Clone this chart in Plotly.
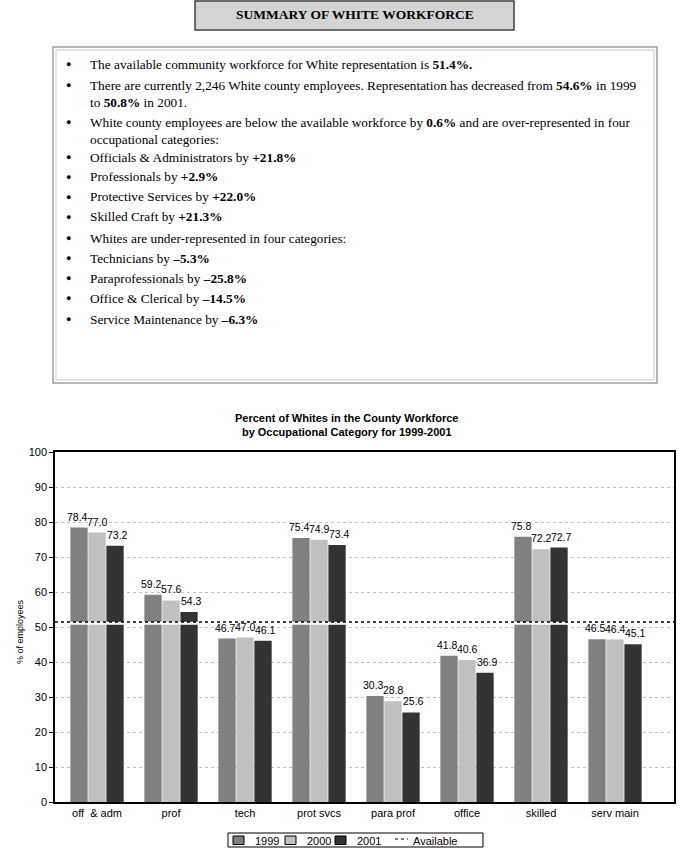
import plotly.graph_objects as go

CATEGORIES = ["off  & adm", "prof", "tech", "prot svcs", "para prof", "office", "skilled", "serv main"]
Y1999 = [78.4, 59.2, 46.7, 75.4, 30.3, 41.8, 75.8, 46.5]
Y2000 = [77.0, 57.6, 47.0, 74.9, 28.8, 40.6, 72.2, 46.4]
Y2001 = [73.2, 54.3, 46.1, 73.4, 25.6, 36.9, 72.7, 45.1]
AVAILABLE = 51.4
SERIES_NAMES = ["1999", "2000", "2001"]
COLORS = ["#808080", "#c0c0c0", "#333333"]

HEADER = "SUMMARY OF WHITE WORKFORCE"
BULLETS = [
    ("The available community workforce for White representation is <b>51.4%.</b>", 64),
    ("There are currently 2,246 White county employees. Representation has decreased from <b>54.6%</b> in 1999", 85),
    ("to <b>50.8%</b> in 2001.", 102),
    ("White county employees are below the available workforce by <b>0.6%</b> and are over-represented in four", 122),
    ("occupational categories:", 139),
    ("Officials &amp; Administrators by <b>+21.8%</b>", 157),
    ("Professionals by <b>+2.9%</b>", 177),
    ("Protective Services by <b>+22.0%</b>", 197),
    ("Skilled Craft by <b>+21.3%</b>", 217),
    ("Whites are under-represented in four categories:", 238),
    ("Technicians by <b>\u20135.3%</b>", 258),
    ("Paraprofessionals by <b>\u201325.8%</b>", 278),
    ("Office &amp; Clerical by <b>\u201314.5%</b>", 298),
    ("Service Maintenance by <b>\u20136.3%</b>", 319),
]
BULLET_ROWS = {64, 85, 122, 157, 177, 197, 217, 238, 258, 278, 298, 319}

W, H = 694, 860
L, R, T, B = 55, 674, 452, 802


def px(x):
    return (x - L) / (R - L)


def py(y):
    return (B - y) / (B - T)


SANS = "Liberation Sans, Arial, sans-serif"
SERIF = "Liberation Serif, Times New Roman, serif"

fig = go.Figure()
for name, vals, col in zip(SERIES_NAMES, [Y1999, Y2000, Y2001], COLORS):
    fig.add_trace(go.Bar(
        name=name, x=CATEGORIES, y=vals, marker=dict(color=col, line=dict(width=0)),
        showlegend=False,
    ))

fig.add_trace(go.Scatter(x=[0, 1], y=[AVAILABLE - 0.35, AVAILABLE - 0.35], xaxis="x2", mode="lines",
                         line=dict(color="white", width=3), showlegend=False, hoverinfo="skip"))
fig.add_trace(go.Scatter(x=[0, 1], y=[AVAILABLE, AVAILABLE], xaxis="x2", mode="lines", name="Available",
                         line=dict(color="black", width=1.5, dash="dot"), showlegend=False))

shapes = []
annotations = []

# value labels (data coordinates, shifted onto each series' bar)
LABEL_XSHIFT = [-20, 0, 20]
for vals, xs in zip([Y1999, Y2000, Y2001], LABEL_XSHIFT):
    for cat, v in zip(CATEGORIES, vals):
        annotations.append(dict(xref="x", yref="y", x=cat, y=v, text=f"{v:.1f}", showarrow=False,
                                xanchor="center", yanchor="bottom", xshift=xs, yshift=3,
                                font=dict(family=SANS, size=10.5, color="black")))

# header box
shapes.append(dict(type="rect", xref="paper", yref="paper", x0=px(195), x1=px(514), y0=py(30), y1=py(1),
                   fillcolor="#d4d4d4", line=dict(color="#404040", width=1.5), layer="below"))
annotations.append(dict(xref="paper", yref="paper", x=px(355), y=py(15), text=f"<b>{HEADER}</b>",
                        showarrow=False, xanchor="center", yanchor="middle",
                        font=dict(family=SERIF, size=13.5, color="black")))

# text box (double border)
shapes.append(dict(type="rect", xref="paper", yref="paper", x0=px(53), x1=px(657), y0=py(383), y1=py(47),
                   line=dict(color="#a0a0a0", width=1.5), fillcolor="white", layer="below"))
shapes.append(dict(type="rect", xref="paper", yref="paper", x0=px(56), x1=px(654), y0=py(380), y1=py(50),
                   line=dict(color="#c8c8c8", width=1), layer="below"))
for text, y in BULLETS:
    if y in BULLET_ROWS:
        annotations.append(dict(xref="paper", yref="paper", x=px(68), y=py(y), text="\u25cf",
                                showarrow=False, xanchor="center", yanchor="middle",
                                font=dict(family=SANS, size=9, color="black")))
    annotations.append(dict(xref="paper", yref="paper", x=px(88), y=py(y), text=text,
                            showarrow=False, xanchor="left", yanchor="middle",
                            font=dict(family=SERIF, size=13.3, color="black")))

# chart title
annotations.append(dict(xref="paper", yref="paper", x=px(347), y=py(425),
                        text="<b>Percent of Whites in the County Workforce<br>by Occupational Category for 1999-2001</b>",
                        showarrow=False, xanchor="center", yanchor="middle",
                        font=dict(family=SANS, size=11, color="black")))
# y title
annotations.append(dict(xref="paper", yref="paper", x=px(20), y=py(632), text="% of employees",
                        textangle=-90, showarrow=False, xanchor="center", yanchor="middle",
                        font=dict(family=SANS, size=9, color="black")))

# manual legend
shapes.append(dict(type="rect", xref="paper", yref="paper", x0=px(228), x1=px(483), y0=py(847), y1=py(833),
                   line=dict(color="black", width=1), fillcolor="white"))
LEG_X = [(233, 253), (285, 305), (335, 355)]
for (sx, tx), name, col in zip(LEG_X, SERIES_NAMES, COLORS):
    shapes.append(dict(type="rect", xref="paper", yref="paper", x0=px(sx), x1=px(sx + 11),
                       y0=py(844.5), y1=py(836), fillcolor=col, line=dict(color="black", width=1)))
    annotations.append(dict(xref="paper", yref="paper", x=px(tx), y=py(840.5), text=name, showarrow=False,
                            xanchor="left", yanchor="middle", font=dict(family=SANS, size=11, color="black")))
shapes.append(dict(type="line", xref="paper", yref="paper", x0=px(395), x1=px(408), y0=py(839), y1=py(839),
                   line=dict(color="black", width=1, dash="dot")))
annotations.append(dict(xref="paper", yref="paper", x=px(411), y=py(840.5), text="Available", showarrow=False,
                        xanchor="left", yanchor="middle", font=dict(family=SANS, size=11, color="black")))

fig.update_layout(
    width=W, height=H,
    margin=dict(l=L, r=W - R, t=T, b=H - B, pad=0, autoexpand=False),
    paper_bgcolor="white", plot_bgcolor="white",
    barmode="group", bargap=0.27, bargroupgap=0.04,
    shapes=shapes, annotations=annotations,
    font=dict(family=SANS, size=11, color="black"),
    xaxis=dict(range=[-0.568, 7.797], showline=True, linecolor="black", linewidth=1.5, mirror=True, ticks="",
               layer="below traces", tickfont=dict(family=SANS, size=11, color="black"), showgrid=False),
    xaxis2=dict(overlaying="x", range=[0, 1], visible=False),
    yaxis=dict(range=[0, 100], dtick=10, showline=True, linecolor="black", linewidth=1.5, mirror=True,
               ticks="outside", ticklen=4, tickcolor="black", showgrid=True, gridcolor="#c0c0c0",
               griddash="3px,3px", gridwidth=1, zeroline=False, layer="below traces",
               tickfont=dict(family=SANS, size=11, color="black")),
    showlegend=False,
)

fig.write_html("out.html", config={"displayModeBar": False},
               post_script="document.body.style.margin='0';document.body.style.padding='0';")
